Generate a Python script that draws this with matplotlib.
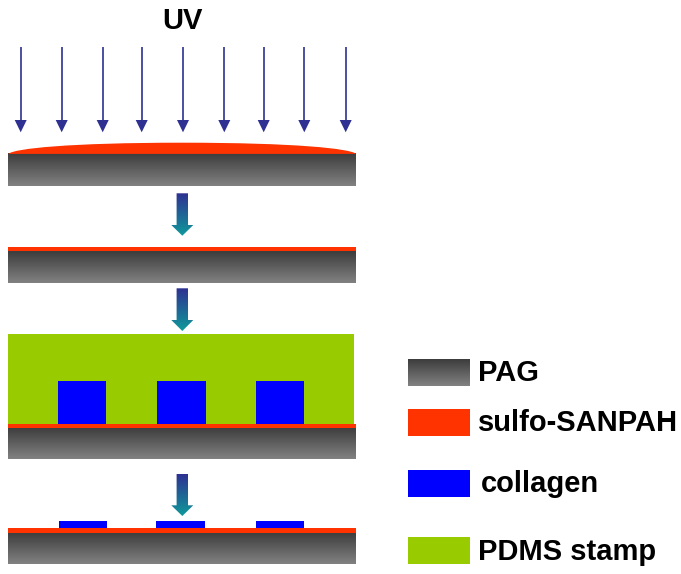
import numpy as np
import matplotlib
matplotlib.use("Agg")
import matplotlib.pyplot as plt
from matplotlib.patches import Polygon, Rectangle, PathPatch
from matplotlib.path import Path
from matplotlib.colors import LinearSegmentedColormap

plt.rcParams['font.family'] = ['Liberation Sans', 'DejaVu Sans']

# Content
title = "UV"
legend_labels = ["PAG", "sulfo-SANPAH", "collagen", "PDMS stamp"]
uv_arrow_x = [20.7, 61.7, 102.7, 141.7, 183, 224.3, 263.7, 304.3, 345.7]
# substrate stacks: (red top, red bottom, grey bottom)
stacks = [(153.7, 153.7, 186), (246.7, 251, 283), (423.7, 428, 459.3), (528.3, 532.7, 564.3)]
stamp_blocks = [(58.3, 106.3), (157, 205.7), (255.7, 304)]
printed_blocks = [(58.7, 107.3), (156.3, 204.7), (255.7, 304)]
process_arrows = [(193.3, 225, 235.7), (288.3, 320, 331), (474, 505.3, 516)]
legend_y = [(359, 386), (409, 435.7), (469.7, 496.7), (537, 564.3)]
legend_text_x = [478.3, 478.3, 481, 478]
legend_text_y = [381, 431, 492, 560]

RED, BLUE, GREEN, NAVY = "#ff3300", "#0000ff", "#99cc00", "#2e3192"
grey_cmap = LinearSegmentedColormap.from_list("g", ["#3c3c3c", "#828282"])
arrow_cmap = LinearSegmentedColormap.from_list("a", [NAVY, "#0f9a9a"])
grad = np.linspace(0, 1, 256).reshape(-1, 1)

fig = plt.figure(figsize=(6.81, 5.74), dpi=100)
ax = fig.add_axes([0, 0, 1, 1])
ax.axis("off")


def vgrad(x0, x1, y0, y1, cmap, clip=None):
    im = ax.imshow(grad, cmap=cmap, extent=(x0, x1, y1, y0), aspect="auto",
                   interpolation="bilinear", zorder=2)
    if clip is not None:
        clip.set_transform(ax.transData)
        im.set_clip_path(clip)


L, R = 8.3, 356.3

# UV title and thin arrows
ax.text(182, 29.3, title, ha="center", va="baseline", fontsize=21, fontweight="bold", color="black")
for x in uv_arrow_x:
    ax.plot([x, x], [46.5, 121], color=NAVY, lw=1.2, solid_capstyle="butt", zorder=3)
    ax.add_patch(Polygon([(x - 6, 120), (x + 6, 120), (x, 132.3)], closed=True, fc=NAVY, ec="none", zorder=3))

# Dome of sulfo-SANPAH
dome = Path([(L, 153.9), (14, 148.5), (70, 142.7), (182, 142.7), (294, 142.7), (350, 148.5), (R, 153.9), (L, 153.9)],
            [Path.MOVETO, Path.CURVE4, Path.CURVE4, Path.CURVE4, Path.CURVE4, Path.CURVE4, Path.CURVE4, Path.CLOSEPOLY])
ax.add_patch(PathPatch(dome, fc=RED, ec="none", zorder=3))

# Stamp
ax.add_patch(Rectangle((L, 334), 346, 89.9, fc=GREEN, ec="none", zorder=1))
for x0, x1 in stamp_blocks:
    ax.add_patch(Rectangle((x0, 381.3), x1 - x0, 42.6, fc=BLUE, ec="none", zorder=3))

# Printed collagen
for x0, x1 in printed_blocks:
    ax.add_patch(Rectangle((x0, 521), x1 - x0, 7.5, fc=BLUE, ec="none", zorder=3))

# Substrates
for top, mid, bot in stacks:
    vgrad(L, R, mid, bot, grey_cmap)
    if mid > top:
        ax.add_patch(Rectangle((L, top), R - L, mid - top, fc=RED, ec="none", zorder=3))

# Block arrows
for top, neck, tip in process_arrows:
    cx = 182.3
    shape = Polygon([(cx - 5.7, top), (cx + 5.7, top), (cx + 5.7, neck), (cx + 11, neck), (cx, tip),
                     (cx - 11, neck), (cx - 5.7, neck)], closed=True, fc="none", ec="none")
    ax.add_patch(shape)
    vgrad(cx - 11, cx + 11, top, tip, arrow_cmap, clip=shape)

# Legend
lx0, lx1 = 407.7, 469.7
vgrad(lx0, lx1, *legend_y[0], grey_cmap)
for (y0, y1), c in zip(legend_y[1:], [RED, BLUE, GREEN]):
    ax.add_patch(Rectangle((lx0, y0), lx1 - lx0, y1 - y0, fc=c, ec="none", zorder=3))
for lab, x, y in zip(legend_labels, legend_text_x, legend_text_y):
    ax.text(x, y, lab, ha="left", va="baseline", fontsize=21, fontweight="bold", color="black")

ax.set_xlim(0, 681)
ax.set_ylim(574, 0)
fig.savefig("out.png", dpi=100, facecolor="white")
